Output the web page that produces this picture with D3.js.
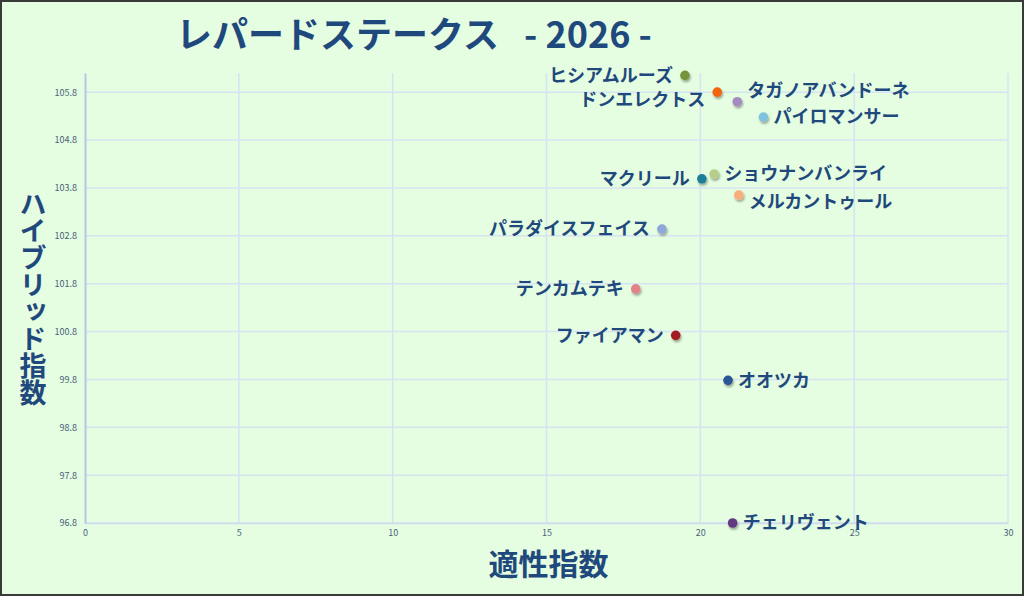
<!DOCTYPE html>
<html>
<head>
<meta charset="utf-8">
<script src="https://cdn.jsdelivr.net/npm/d3@7"></script>
<style>
  html, body { margin: 0; padding: 0; background: #e5fde0; }
  svg { display: block; }
</style>
</head>
<body>
<div id="chart"></div>
<script>
// Chart data
var horses = ["ヒシアムルーズ", "ドンエレクトス", "タガノアバンドーネ", "パイロマンサー",
              "ショウナンバンライ", "マクリール", "メルカントゥール", "パラダイスフェイス",
              "テンカムテキ", "ファイアマン", "オオツカ", "チェリヴェント"];
var tekisei = [19.5, 20.55, 21.2, 22.05, 20.45, 20.05, 21.25, 18.75, 17.9, 19.2, 20.9, 21.05];
var hybrid  = [106.15, 105.8, 105.6, 105.28, 104.09, 103.99, 103.65, 102.94, 101.69, 100.72, 99.78, 96.8];
var dotColors = ["#77933c", "#f0650a", "#a28bc2", "#7fc3df", "#b5cf8a", "#1f7f99",
                 "#f8ae7c", "#8ea8d9", "#e08489", "#a31f22", "#2a5597", "#603a80"];

var xTicks = [0, 5, 10, 15, 20, 25, 30];
var yTicks = [96.8, 97.8, 98.8, 99.8, 100.8, 101.8, 102.8, 103.8, 104.8, 105.8];

// label placement (side of point, vertical nudge)
var labelSide = ["left", "left", "right", "right", "right", "left", "right", "left", "left", "left", "right", "right"];
var labelNudge = [0, 8, -11, 0, 0, 0, 7, 0, 0, 0, 0, 0];

var W = 1024, H = 596;
var margin = {top: 73, right: 16, bottom: 73, left: 85},
    width = W - margin.left - margin.right,
    height = H - margin.top - margin.bottom;

var navy = "#1f497d";
var font = "'Noto Sans CJK JP', 'Noto Sans', sans-serif";

var svg = d3.select("#chart")
  .append("svg")
    .attr("width", W)
    .attr("height", H);

svg.append("rect")
    .attr("x", 1).attr("y", 1)
    .attr("width", W - 2).attr("height", H - 2)
    .attr("fill", "#e5fde0")
    .attr("stroke", "#3a3a3a")
    .attr("stroke-width", 2);

var defs = svg.append("defs");
var shadow = defs.append("filter").attr("id", "shadow")
    .attr("x", "-50%").attr("y", "-50%").attr("width", "200%").attr("height", "200%");
shadow.append("feDropShadow")
    .attr("dx", 1).attr("dy", 2).attr("stdDeviation", 1.3)
    .attr("flood-color", "#000").attr("flood-opacity", 0.35);

var g = svg.append("g")
    .attr("transform", "translate(" + margin.left + "," + margin.top + ")");

var x = d3.scaleLinear().domain([0, 30]).range([0, width]);
var y = d3.scaleLinear().domain([96.8, 106.2]).range([height, 0]);

// Gridlines
g.append("g")
  .selectAll("line.h")
  .data(yTicks)
  .enter().append("line")
    .attr("x1", 0).attr("x2", width)
    .attr("y1", function(d) { return y(d); })
    .attr("y2", function(d) { return y(d); })
    .attr("stroke", "#d6e3f3")
    .attr("stroke-width", 1.5);

g.append("g")
  .selectAll("line.v")
  .data(xTicks.slice(1))
  .enter().append("line")
    .attr("x1", function(d) { return x(d); })
    .attr("x2", function(d) { return x(d); })
    .attr("y1", 0).attr("y2", height)
    .attr("stroke", "#d6e3f3")
    .attr("stroke-width", 1.5);

// Axes
var xAxis = d3.axisBottom(x).tickValues(xTicks).tickSize(0).tickPadding(7)
    .tickFormat(d3.format("d"));
var yAxis = d3.axisLeft(y).tickValues(yTicks).tickSize(0).tickPadding(8)
    .tickFormat(d3.format(".1f"));

var gx = g.append("g")
    .attr("transform", "translate(0," + height + ")")
    .call(xAxis);
gx.select(".domain").attr("stroke", "#cfdcee").attr("stroke-width", 1.5);

var gy = g.append("g").call(yAxis);
gy.select(".domain").attr("stroke", "#b4c8e6").attr("stroke-width", 2);

svg.selectAll(".tick text")
    .attr("fill", "#4a5f7c")
    .style("font-family", font)
    .style("font-size", "9px");

// Points
var data = horses.map(function(name, i) {
  return {name: name, x: tekisei[i], y: hybrid[i], color: dotColors[i],
          side: labelSide[i], nudge: labelNudge[i]};
});

var pts = g.append("g").selectAll("g")
  .data(data)
  .enter().append("g")
    .attr("transform", function(d) { return "translate(" + x(d.x) + "," + y(d.y) + ")"; });

pts.append("circle")
    .attr("r", 4.8)
    .attr("fill", function(d) { return d.color; })
    .attr("filter", "url(#shadow)");

pts.append("text")
    .attr("x", function(d) { return d.side == "left" ? -12 : 10; })
    .attr("y", function(d) { return d.nudge; })
    .attr("dy", "0.35em")
    .attr("text-anchor", function(d) { return d.side == "left" ? "end" : "start"; })
    .attr("fill", navy)
    .style("font-family", font)
    .style("font-weight", "bold")
    .style("font-size", "18px")
    .text(function(d) { return d.name; });

// Title
var title = svg.append("text")
    .attr("y", 48)
    .attr("fill", navy)
    .style("font-family", font)
    .style("font-weight", "bold")
    .style("font-size", "36px");
title.append("tspan").attr("x", 176).text("レパードステークス");
title.append("tspan").attr("x", 524).text("- 2026 -");

// Axis titles
svg.append("text")
    .attr("x", margin.left + width / 2 + 2)
    .attr("y", 575)
    .attr("text-anchor", "middle")
    .attr("fill", navy)
    .style("font-family", font)
    .style("font-weight", "bold")
    .style("font-size", "30px")
    .text("適性指数");

svg.append("text")
    .attr("x", 33)
    .attr("y", 298)
    .attr("text-anchor", "middle")
    .attr("fill", navy)
    .style("writing-mode", "vertical-rl")
    .style("font-family", font)
    .style("font-weight", "bold")
    .style("font-size", "27px")
    .text("ハイブリッド指数");
</script>
</body>
</html>
